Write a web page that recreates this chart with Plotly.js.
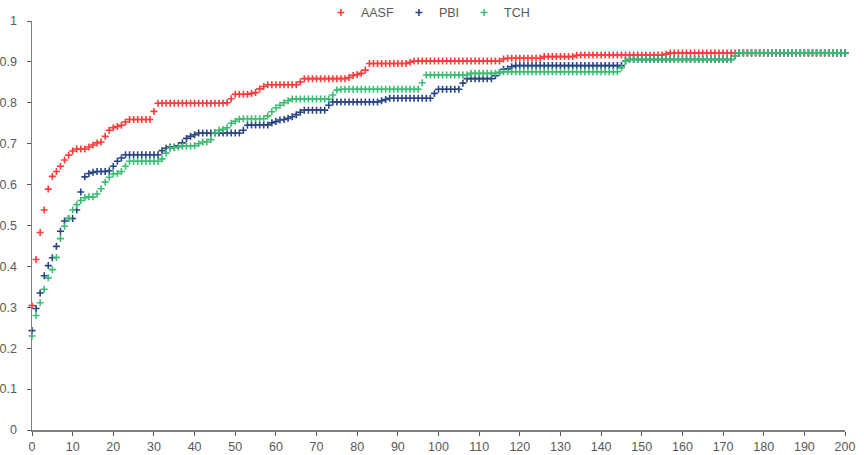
<!DOCTYPE html>
<html>
<head>
<meta charset="utf-8">
<script src="https://cdn.plot.ly/plotly-3.0.1.min.js"></script>
<style>
html,body{margin:0;padding:0;background:#fff;}
#chart{width:864px;height:455px;}
</style>
</head>
<body>
<div id="chart"></div>
<script>
// Series names
const seriesNames = ["AASF", "PBI", "TCH"];

// x positions (0..200)
const xValues = [
0,1,2,3,4,5,6,7,8,9,10,11,12,13,14,15,16,17,18,19,
20,21,22,23,24,25,26,27,28,29,30,31,32,33,34,35,36,37,38,39,
40,41,42,43,44,45,46,47,48,49,50,51,52,53,54,55,56,57,58,59,
60,61,62,63,64,65,66,67,68,69,70,71,72,73,74,75,76,77,78,79,
80,81,82,83,84,85,86,87,88,89,90,91,92,93,94,95,96,97,98,99,
100,101,102,103,104,105,106,107,108,109,110,111,112,113,114,115,116,117,118,119,
120,121,122,123,124,125,126,127,128,129,130,131,132,133,134,135,136,137,138,139,
140,141,142,143,144,145,146,147,148,149,150,151,152,153,154,155,156,157,158,159,
160,161,162,163,164,165,166,167,168,169,170,171,172,173,174,175,176,177,178,179,
180,181,182,183,184,185,186,187,188,189,190,191,192,193,194,195,196,197,198,199,
200];

// AASF (red)
const aasf = [
0.304,0.417,0.483,0.538,0.589,0.620,0.632,0.645,0.660,0.672,
0.682,0.687,0.687,0.687,0.692,0.697,0.702,0.704,0.718,0.733,
0.739,0.742,0.745,0.753,0.759,0.759,0.759,0.759,0.759,0.759,
0.779,0.799,0.799,0.799,0.799,0.799,0.799,0.799,0.799,0.799,
0.799,0.799,0.799,0.799,0.799,0.799,0.799,0.799,0.800,0.810,
0.821,0.821,0.821,0.821,0.823,0.825,0.834,0.840,0.844,0.844,
0.844,0.844,0.844,0.844,0.844,0.844,0.851,0.859,0.859,0.859,
0.859,0.859,0.859,0.859,0.859,0.859,0.859,0.859,0.862,0.867,
0.869,0.872,0.880,0.896,0.896,0.896,0.896,0.896,0.896,0.896,
0.896,0.896,0.896,0.899,0.902,0.902,0.902,0.902,0.902,0.902,
0.902,0.902,0.902,0.902,0.902,0.902,0.902,0.902,0.902,0.902,
0.902,0.902,0.902,0.902,0.902,0.902,0.907,0.909,0.909,0.909,
0.909,0.909,0.909,0.909,0.909,0.909,0.913,0.913,0.913,0.913,
0.913,0.913,0.913,0.913,0.916,0.917,0.917,0.917,0.917,0.917,
0.917,0.917,0.917,0.917,0.917,0.917,0.917,0.917,0.917,0.917,
0.917,0.917,0.917,0.917,0.917,0.917,0.919,0.922,0.922,0.922,
0.922,0.922,0.922,0.922,0.922,0.922,0.922,0.922,0.922,0.922,
0.922,0.922,0.922,0.922,0.922,0.922,0.922,0.922,0.922,0.922,
0.922,0.922,0.922,0.922,0.922,0.922,0.922,0.922,0.922,0.922,
0.922,0.922,0.922,0.922,0.922,0.922,0.922,0.922,0.922,0.922,
0.922];

// PBI (navy)
const pbi = [
0.243,0.297,0.335,0.377,0.402,0.421,0.449,0.486,0.511,0.517,
0.517,0.538,0.582,0.619,0.627,0.630,0.632,0.632,0.632,0.634,
0.645,0.657,0.665,0.673,0.673,0.673,0.673,0.673,0.673,0.673,
0.673,0.673,0.683,0.689,0.692,0.692,0.695,0.702,0.713,0.718,
0.722,0.726,0.726,0.726,0.726,0.726,0.726,0.726,0.726,0.726,
0.726,0.726,0.733,0.745,0.746,0.746,0.746,0.746,0.746,0.751,
0.754,0.758,0.759,0.762,0.766,0.771,0.777,0.782,0.782,0.782,
0.782,0.782,0.782,0.794,0.802,0.802,0.802,0.802,0.802,0.802,
0.802,0.802,0.802,0.802,0.802,0.802,0.805,0.808,0.811,0.811,
0.811,0.811,0.811,0.811,0.811,0.811,0.811,0.811,0.811,0.823,
0.833,0.833,0.833,0.833,0.833,0.833,0.848,0.859,0.859,0.859,
0.859,0.859,0.859,0.859,0.866,0.874,0.882,0.883,0.888,0.891,
0.891,0.891,0.891,0.891,0.891,0.891,0.891,0.891,0.891,0.891,
0.891,0.891,0.891,0.891,0.891,0.891,0.891,0.891,0.891,0.891,
0.891,0.891,0.891,0.891,0.891,0.891,0.902,0.906,0.906,0.906,
0.906,0.906,0.906,0.906,0.906,0.906,0.906,0.906,0.906,0.906,
0.906,0.906,0.906,0.906,0.906,0.906,0.906,0.906,0.906,0.906,
0.906,0.906,0.906,0.915,0.922,0.922,0.922,0.922,0.922,0.922,
0.922,0.922,0.922,0.922,0.922,0.922,0.922,0.922,0.922,0.922,
0.922,0.922,0.922,0.922,0.922,0.922,0.922,0.922,0.922,0.922,
0.922];

// TCH (green)
const tch = [
0.230,0.280,0.311,0.344,0.372,0.392,0.422,0.468,0.498,0.517,
0.538,0.551,0.561,0.568,0.570,0.570,0.577,0.590,0.606,0.618,
0.626,0.627,0.632,0.645,0.657,0.657,0.657,0.657,0.657,0.657,
0.657,0.657,0.663,0.677,0.689,0.690,0.692,0.694,0.694,0.694,
0.695,0.700,0.704,0.704,0.710,0.727,0.733,0.735,0.739,0.750,
0.755,0.760,0.761,0.761,0.761,0.761,0.761,0.761,0.768,0.778,
0.788,0.794,0.800,0.805,0.809,0.809,0.809,0.809,0.809,0.809,
0.809,0.809,0.809,0.809,0.819,0.831,0.833,0.833,0.833,0.833,
0.833,0.833,0.833,0.833,0.833,0.833,0.833,0.833,0.833,0.833,
0.833,0.833,0.833,0.833,0.833,0.833,0.849,0.868,0.868,0.868,
0.868,0.868,0.868,0.868,0.868,0.868,0.868,0.868,0.872,0.872,
0.872,0.872,0.872,0.872,0.872,0.874,0.876,0.876,0.876,0.876,
0.876,0.876,0.876,0.876,0.876,0.876,0.876,0.876,0.876,0.876,
0.876,0.876,0.876,0.876,0.876,0.876,0.876,0.876,0.876,0.876,
0.876,0.876,0.876,0.876,0.876,0.886,0.902,0.906,0.906,0.906,
0.906,0.906,0.906,0.906,0.906,0.906,0.906,0.906,0.906,0.906,
0.906,0.906,0.906,0.906,0.906,0.906,0.906,0.906,0.906,0.906,
0.906,0.906,0.906,0.915,0.922,0.922,0.922,0.922,0.922,0.922,
0.922,0.922,0.922,0.922,0.922,0.922,0.922,0.922,0.922,0.922,
0.922,0.922,0.922,0.922,0.922,0.922,0.922,0.922,0.922,0.922,
0.922];

const xTicks = [0,10,20,30,40,50,60,70,80,90,100,110,120,130,140,150,160,170,180,190,200];
const yTicks = [0,0.1,0.2,0.3,0.4,0.5,0.6,0.7,0.8,0.9,1];

const colors = ["#ff3a3a", "#2a4584", "#3cbc72"];
const seriesValues = [aasf, pbi, tch];

const traces = seriesNames.map((name, k) => ({
  type: "scatter",
  mode: "markers",
  name: name,
  x: xValues,
  y: seriesValues[k],
  marker: {symbol: "cross-thin", size: 5, color: colors[k], line: {width: 1.6, color: colors[k]}},
  cliponaxis: false,
  hoverinfo: "x+y+name"
}));

const font = {family: "Liberation Sans, Arial, sans-serif", size: 12.5, color: "#595959"};

const layout = {
  width: 864, height: 455,
  margin: {l: 32, r: 19, t: 21, b: 25, pad: 0, autoexpand: false},
  paper_bgcolor: "#ffffff",
  plot_bgcolor: "#ffffff",
  font: font,
  showlegend: true,
  legend: {
    orientation: "h", x: 0.487, xanchor: "center", y: 1.02, yanchor: "middle",
    font: {family: "Liberation Sans, Arial, sans-serif", size: 12.5, color: "#595959"},
    itemsizing: "trace", bgcolor: "rgba(0,0,0,0)"
  },
  xaxis: {
    range: [0, 200], tickmode: "array", tickvals: xTicks,
    ticks: "outside", ticklen: 4, tickwidth: 1, tickcolor: "#595959",
    showline: true, linecolor: "#7f7f7f", linewidth: 1.5,
    showgrid: false, zeroline: false, tickfont: font, automargin: false
  },
  xaxis2: {
    overlaying: "x", anchor: "y", side: "bottom", range: [0, 200],
    tickmode: "array", tickvals: xTicks,
    ticks: "inside", ticklen: 4, tickwidth: 1, tickcolor: "#595959",
    showticklabels: false, showline: false, showgrid: false, zeroline: false
  },
  yaxis: {
    range: [0, 1], tickmode: "array", tickvals: yTicks,
    ticks: "outside", ticklen: 4, tickwidth: 1, tickcolor: "#595959",
    ticklabelstandoff: 7,
    showline: true, linecolor: "#7f7f7f", linewidth: 1.5,
    showgrid: false, zeroline: false, tickfont: font, automargin: false
  },
  yaxis2: {
    overlaying: "y", anchor: "x", side: "left", range: [0, 1],
    tickmode: "array", tickvals: yTicks,
    ticks: "inside", ticklen: 4, tickwidth: 1, tickcolor: "#595959",
    showticklabels: false, showline: false, showgrid: false, zeroline: false
  }
};

Plotly.newPlot("chart", traces, layout, {staticPlot: true, displayModeBar: false});
</script>
</body>
</html>
